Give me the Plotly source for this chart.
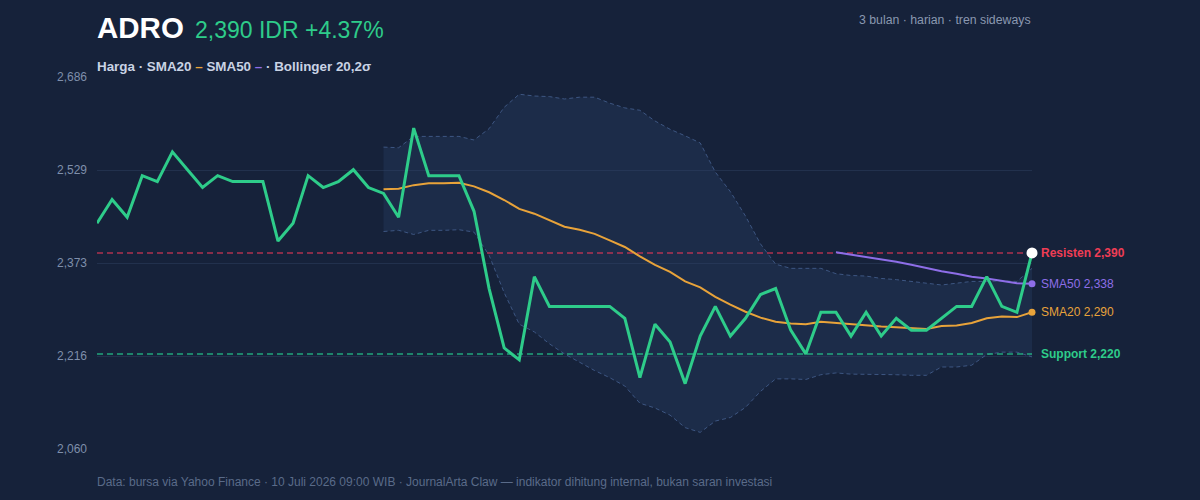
import plotly.graph_objects as go

# ---- data ----
price = [2440, 2480, 2450, 2520, 2510, 2560, 2530, 2500, 2520, 2510,
         2510, 2510, 2410, 2440, 2520, 2500, 2510, 2530, 2500, 2490,
         2450, 2600, 2520, 2520, 2520, 2460, 2330, 2230, 2210, 2350,
         2300, 2300, 2300, 2300, 2300, 2280, 2180, 2270, 2240, 2170,
         2250, 2300, 2250, 2280, 2320, 2330, 2260, 2220, 2290, 2290,
         2250, 2290, 2250, 2280, 2260, 2260, 2280, 2300, 2300, 2350,
         2300, 2290, 2390]
sma20 = [2497, 2498, 2504, 2507, 2507, 2508, 2502, 2492, 2479, 2464, 2456,
         2445, 2434, 2429, 2422, 2411, 2400, 2384, 2370, 2358, 2342, 2332,
         2316, 2303, 2291, 2281, 2274, 2271, 2270, 2274, 2272, 2269, 2268,
         2266, 2265, 2263, 2262, 2267, 2268, 2272, 2280, 2283, 2282, 2290]
bb_upper = [2568, 2567, 2586, 2586, 2586, 2586, 2580, 2599, 2635, 2657, 2654,
            2653, 2649, 2652, 2652, 2642, 2634, 2630, 2612, 2598, 2587, 2575,
            2526, 2493, 2452, 2405, 2371, 2364, 2364, 2364, 2355, 2352, 2351,
            2347, 2345, 2342, 2340, 2336, 2339, 2342, 2342, 2343, 2342, 2364]
bb_lower = [2426, 2428, 2421, 2428, 2428, 2429, 2425, 2386, 2323, 2270, 2257,
            2237, 2220, 2206, 2192, 2180, 2166, 2137, 2129, 2117, 2096, 2088,
            2107, 2113, 2130, 2157, 2178, 2178, 2177, 2185, 2188, 2186, 2186,
            2185, 2185, 2184, 2184, 2198, 2198, 2201, 2219, 2223, 2223, 2215]
sma50 = [2391, 2387, 2384, 2380, 2375, 2370, 2364, 2359, 2355, 2350, 2347,
         2343, 2339, 2338]
resistance = 2390
support = 2220
ytick_vals = [2060, 2216.5, 2373, 2529.5, 2686]
ytick_text = ["2,060", "2,216", "2,373", "2,529", "2,686"]

# ---- styling ----
BG = "#16223a"
GREEN = "#2ecc8a"
ORANGE = "#e8a33a"
PURPLE = "#8e6ee8"
RED = "#ef3d55"
FONT = "Liberation Sans, Arial, Helvetica, sans-serif"

n = len(price)
x_all = list(range(n))
x20 = x_all[n - len(sma20):]
x50 = x_all[n - len(sma50):]

fig = go.Figure()
fig.add_trace(go.Scatter(x=x20, y=bb_upper, mode="lines", hoverinfo="skip",
                         line=dict(color="#3d5682", width=1, dash="4px,3px")))
fig.add_trace(go.Scatter(x=x20, y=bb_lower, mode="lines", hoverinfo="skip",
                         fill="tonexty", fillcolor="rgba(45,65,105,0.32)",
                         line=dict(color="#3d5682", width=1, dash="4px,3px")))
fig.add_trace(go.Scatter(x=[x_all[0], x_all[-1]], y=[resistance, resistance], mode="lines",
                         line=dict(color="rgba(225,55,85,0.75)", width=1.5, dash="6px,4px")))
fig.add_trace(go.Scatter(x=[x_all[0], x_all[-1]], y=[support, support], mode="lines",
                         line=dict(color="rgba(38,200,140,0.8)", width=1.5, dash="6px,4px")))
fig.add_trace(go.Scatter(x=x20, y=sma20, mode="lines", line=dict(color=ORANGE, width=2)))
fig.add_trace(go.Scatter(x=x50, y=sma50, mode="lines", line=dict(color=PURPLE, width=2)))
fig.add_trace(go.Scatter(x=x_all, y=price, mode="lines", line=dict(color=GREEN, width=3)))
fig.add_trace(go.Scatter(x=[x20[-1]], y=[sma20[-1]], mode="markers", cliponaxis=False,
                         marker=dict(color=ORANGE, size=7)))
fig.add_trace(go.Scatter(x=[x50[-1]], y=[sma50[-1]], mode="markers", cliponaxis=False,
                         marker=dict(color=PURPLE, size=7)))
fig.add_trace(go.Scatter(x=[x_all[-1]], y=[price[-1]], mode="markers", cliponaxis=False,
                         marker=dict(color="#ffffff", size=11)))

ann = []
ann.append(dict(xref="paper", yref="paper", x=0, y=1.134, xanchor="left", yanchor="middle",
                xshift=-2, text="<b>ADRO</b>", showarrow=False,
                font=dict(family=FONT, size=29.5, color="#ffffff")))
ann.append(dict(xref="paper", yref="paper", x=(195 - 97) / 935, y=1.127, xanchor="left", yanchor="middle",
                xshift=-2, text="2,390 IDR +4.37%", showarrow=False,
                font=dict(family=FONT, size=23, color=GREEN)))
ann.append(dict(xref="paper", yref="paper", x=1.0, y=1.152, xanchor="right", yanchor="middle",
                xshift=1, text="3 bulan · harian · tren sideways", showarrow=False,
                font=dict(family=FONT, size=12.3, color="#8a98b0")))
ann.append(dict(xref="paper", yref="paper", x=0, y=1.029, xanchor="left", yanchor="middle",
                xshift=-2,
                text=("<b>Harga · SMA20 <span style='color:%s'>–</span> SMA50 "
                      "<span style='color:%s'>–</span> · Bollinger 20,2σ</b>") % (ORANGE, PURPLE),
                showarrow=False, font=dict(family=FONT, size=13.4, color="#c9d3e4")))
ann.append(dict(xref="paper", yref="paper", x=0, y=-0.089, xanchor="left", yanchor="middle",
                xshift=-2,
                text="Data: bursa via Yahoo Finance · 10 Juli 2026 09:00 WIB · JournalArta Claw — indikator dihitung internal, bukan saran investasi",
                showarrow=False, font=dict(family=FONT, size=12, color="#5a6b89")))
for val, txt, col, bold in [(resistance, "Resisten 2,390", RED, True),
                            (sma50[-1], "SMA50 2,338", PURPLE, False),
                            (sma20[-1], "SMA20 2,290", ORANGE, False),
                            (support, "Support 2,220", GREEN, True)]:
    ann.append(dict(xref="paper", yref="y", x=1.0, y=val, xanchor="left", yanchor="middle",
                    xshift=7, text=("<b>%s</b>" % txt) if bold else txt, showarrow=False,
                    font=dict(family=FONT, size=12, color=col)))

fig.update_layout(width=1200, height=500, showlegend=False,
                  paper_bgcolor=BG, plot_bgcolor=BG,
                  margin=dict(l=97, r=168, t=77, b=51),
                  font=dict(family=FONT), annotations=ann)
fig.update_xaxes(range=[0, n - 1], visible=False, showgrid=False, zeroline=False)
fig.update_yaxes(range=[2060, 2686], tickvals=ytick_vals, ticktext=ytick_text,
                 showgrid=True, gridcolor="rgba(70,90,130,0.28)", gridwidth=1,
                 zeroline=False, showline=False, ticks="", ticklabelstandoff=9,
                 tickfont=dict(family=FONT, size=12, color="#7f8fab"))
fig.write_html("out.html")
